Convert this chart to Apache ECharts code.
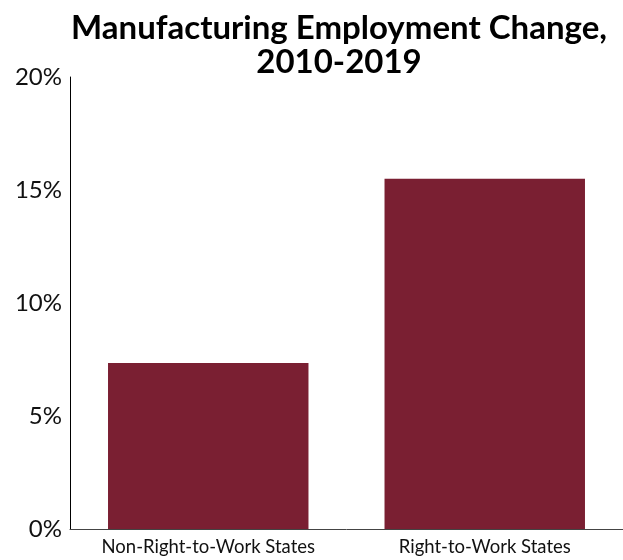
<!DOCTYPE html>
<html>
<head>
<meta charset="utf-8">
<script src="https://cdn.jsdelivr.net/npm/echarts@6/dist/echarts.min.js"></script>
<style>
  html, body { margin: 0; padding: 0; background: #fff; }
  #chart { width: 623px; height: 560px; }
</style>
</head>
<body>
<div id="chart"></div>
<script>
// Manufacturing employment change by state group, 2010-2019 (percent)
const categories = ['Non-Right-to-Work States', 'Right-to-Work States'];
const changePct = [7.35, 15.5];
const yTicks = [0, 5, 10, 15, 20];

const chart = echarts.init(document.getElementById('chart'));
chart.setOption({
  animation: false,
  title: {
    text: 'Manufacturing Employment Change,\n2010-2019',
    left: 334,
    top: 6,
    textAlign: 'center',
    textStyle: {
      fontFamily: 'Lato',
      fontWeight: 'bold',
      fontSize: 33,
      lineHeight: 34,
      color: '#000'
    }
  },
  grid: { left: 70, right: 0, top: 77, bottom: 31, containLabel: false },
  xAxis: {
    type: 'category',
    data: categories,
    axisLine: { show: true, lineStyle: { color: '#444', width: 1 } },
    axisTick: { show: false },
    axisLabel: {
      interval: 0,
      fontFamily: 'Lato',
      fontSize: 18.5,
      color: '#111',
      margin: 9
    }
  },
  yAxis: {
    type: 'value',
    min: yTicks[0],
    max: yTicks[yTicks.length - 1],
    interval: yTicks[1] - yTicks[0],
    splitLine: { show: false },
    axisLine: { show: true, lineStyle: { color: '#000', width: 1 } },
    axisTick: { show: false },
    axisLabel: {
      fontFamily: 'Lato',
      fontSize: 24,
      color: '#111',
      margin: 8,
      formatter: v => v + '%'
    }
  },
  series: [{
    type: 'bar',
    data: changePct,
    barWidth: '72.5%',
    itemStyle: { color: '#7a1f32' }
  }]
});
</script>
</body>
</html>
